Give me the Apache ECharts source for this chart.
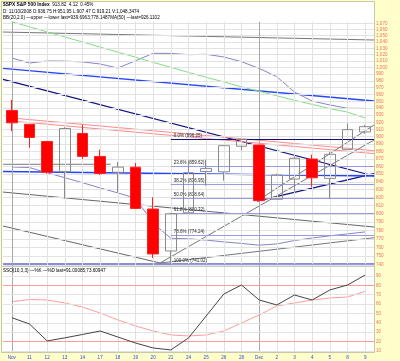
<!DOCTYPE html>
<html><head><meta charset="utf-8">
<script src="https://cdn.jsdelivr.net/npm/echarts@6/dist/echarts.min.js"></script>
<style>html,body{margin:0;padding:0;background:#FFFFCC}#c{width:400px;height:361px}</style>
</head><body><div id="c"></div>
<script>
const days = ['Nov','11','12','13','14','17','18','19','20','21','24','25','26','28','Dec','2','3','4','5','8','9'];
const opens  = [936.75,917.15,893.39,853.13,904.36,873.23,852.34,859.03,805.87,755.84,801.20,853.40,852.90,886.89,888.61,817.94,843.60,869.75,844.43,882.71,906.48];
const closes = [919.21,898.95,852.30,911.29,873.29,850.75,859.12,806.58,752.44,800.03,851.81,857.39,887.68,896.24,816.21,848.81,870.74,845.22,876.07,909.70,913.82];
const lows   = [907.47,884.90,850.48,818.69,869.88,848.98,826.84,806.18,747.78,741.02,801.20,834.99,841.37,881.21,815.69,817.94,827.60,833.60,818.41,882.71,904.00];
const highs  = [951.95,917.15,893.39,913.01,916.88,882.29,865.90,864.57,820.52,801.20,865.60,868.94,887.68,896.25,888.61,850.54,873.12,875.60,879.42,918.57,916.26];
const bbUpper = [1014.8,1007.1,1010.2,1010.0,1008.8,1005.6,999.4,1010.6,1022.1,1022.0,1020.0,1020.6,1016.4,1009.1,998.9,986.2,963.4,950.3,944.6,939.8,939.7];
const bbLower = [859.2,858.5,851.7,845.3,838.9,832.2,825.9,819.3,788.5,770.6,770.0,768.5,766.4,764.6,762.6,764.0,768.0,771.0,773.5,775.8,778.15];
const ma50 = [1072.6,1064.3,1056.0,1048.0,1040.0,1031.9,1023.9,1016.1,1008.0,1000.5,992.7,985.4,978.4,971.1,964.6,957.9,951.4,945.5,939.4,934.3,926.1];
const stochK = [45.5,38.8,20.7,24.0,27.6,31.3,24.9,18.5,13.2,11.1,23.9,47.3,70.8,80.4,64.4,59.1,69.7,64.4,75.1,80.4,91.0];
const stochD = [62.6,64.9,64.4,61.2,56.9,50.5,43.1,36.7,31.3,27.1,26.0,27.1,31.3,39.9,48.4,58.0,61.2,64.4,66.5,67.6,73.6];
const priceTicks = [740,750,760,770,780,790,800,810,820,830,840,850,860,870,880,890,900,910,920,930,940,950,960,970,980,990,1000,1010,1020,1030,1040,1050,1060,1070];
const oscTicks = [10,20,30,40,50,60,70,80,90];
const oscBands = [20,80];
const lastPrice = 913.82;
// hand-drawn annotation lines: [dayIndex, price]
const lineGrayTop = [[-0.5,1055.9],[20.5,1043.1]];
const lineBlue = [[-0.5,998.9],[20.5,950.3]];
const lineNavy = [[-0.5,982.3],[20.5,847.5]];
const lineNavyUp = [[13.88,815.7],[20.5,850.5]];
const linePinkA = [[0,926.0],[20.5,880.9]];
const linePinkB = [[0,921.7],[20.5,877.0]];
const lineBlueFlat = [[-0.5,853.3],[20.5,847.5]];
const lineGrayFlat = [[-0.5,862.8],[5.6,862.8]];
const lineSupport = [[-0.5,741.02],[20.5,741.02]];
const lineGrayL1 = [[-0.5,827.0],[20.5,784.0]];
const lineGrayL2 = [[-0.5,785.2],[8.39,742.1]];
const lineFan1 = [[8.39,742.1],[20.5,895.4]];
const lineFan2 = [[13.88,815.7],[20.5,916.1]];
const lineFan3 = [[8.39,742.1],[20.5,771.3]];
const fibNames = ['0.0%','23.6%','38.2%','50.0%','61.8%','78.6%','100.0%'];
const fibPrices = [896.25,859.62,836.95,818.64,800.32,774.24,741.02];
const fibStart = 9;

function fmt(p){ return p>=1000 ? String(p).replace(/(\d)(\d{3})$/,'$1,$2') : String(p); }
const FONT = 'Liberation Sans';
const chart = echarts.init(document.getElementById('c'), null, {renderer:'canvas'});

function seg(name, data, color, width, z){
  return {type:'line', xAxisIndex:1, yAxisIndex:0, data:data, showSymbol:false, symbol:'none', silent:true,
    lineStyle:{color:color, width:width||1}, z:z||4, animation:false};
}

const series = [];
series.push({type:'line', xAxisIndex:1, yAxisIndex:0, data:[], silent:true, z:1,
  markLine:{silent:true, symbol:'none', animation:false,
    lineStyle:{color:'#e2e2e2', width:1, type:'solid'},
    label:{show:true, position:'end', distance:2, color:'#f07068', fontSize:4.6, fontFamily:FONT, formatter:p=>fmt(p.value)},
    data: priceTicks.map(p=>({yAxis:p}))}});
series.push({type:'line', xAxisIndex:0, yAxisIndex:0, data:[], silent:true, z:1,
  markLine:{silent:true, symbol:'none', animation:false, label:{show:false},
    data: days.map((d,i)=>({xAxis:i, lineStyle:{color:(d==='Nov'||d==='Dec')?'#a8a8a8':'#e2e2e2', width:1, type:'solid'}}))}});
series.push({type:'line', xAxisIndex:2, yAxisIndex:1, data:[], silent:true, z:1,
  markLine:{silent:true, symbol:'none', animation:false, label:{show:false},
    data: days.map((d,i)=>({xAxis:i, lineStyle:{color:(d==='Nov'||d==='Dec')?'#a8a8a8':'#e2e2e2', width:1, type:'solid'}}))}});
series.push({type:'line', xAxisIndex:2, yAxisIndex:1, data:[], silent:true, z:1,
  markLine:{silent:true, symbol:'none', animation:false,
    lineStyle:{color:'#e2e2e2', width:1, type:'solid'},
    label:{show:true, position:'end', distance:2, color:'#f07068', fontSize:4.6, fontFamily:FONT, formatter:p=>String(p.value)},
    data: oscTicks.map(v=>({yAxis:v}))}});
series.push({type:'line', xAxisIndex:2, yAxisIndex:1, data:[], silent:true, z:2,
  markLine:{silent:true, symbol:'none', animation:false, label:{show:false},
    lineStyle:{color:'#ff9a9a', width:1, type:'solid'},
    data: oscBands.map(v=>({yAxis:v}))}});

series.push(seg('gtop', lineGrayTop, '#777777', 1));
series.push(seg('blue', lineBlue, '#2244ff', 1.4));
series.push(seg('navy', lineNavy, '#101080', 1.2));
series.push(seg('navyup', lineNavyUp, '#101080', 1.2));
series.push(seg('pinkA', linePinkA, '#ff8a8a', 1));
series.push(seg('pinkB', linePinkB, '#ff8a8a', 1));
series.push(seg('blueflat', lineBlueFlat, '#2244ff', 1.4));
series.push(seg('grayflat', lineGrayFlat, '#777777', 1));
series.push(seg('support', lineSupport, '#8c8cd8', 2));
series.push(seg('gl1', lineGrayL1, '#666666', 1));
series.push(seg('gl2', lineGrayL2, '#666666', 1));
series.push(seg('fan1', lineFan1, '#777777', 1));
series.push(seg('fan2', lineFan2, '#777777', 1));
series.push(seg('fan3', lineFan3, '#777777', 1));
series.push({type:'line', xAxisIndex:1, yAxisIndex:0, data:[], silent:true, z:3,
  markLine:{silent:true, symbol:'none', animation:false,
    data: fibPrices.map((p,i)=>[
      {coord:[fibStart,p], lineStyle:{color:i===0?'#101080':'#9a9ae0', width:1, type:'solid'},
       label:{show:true, position:'insideStartTop', distance:[3,1], color:'#222', fontSize:4.5, fontFamily:FONT,
       formatter: fibNames[i]+' ('+p.toFixed(2)+')'}},
      {coord:[20.5,p]}])}});
series.push({type:'line', xAxisIndex:0, yAxisIndex:0, data:bbUpper, showSymbol:false, symbol:'none', silent:true, lineStyle:{color:'#8585c8', width:1}, z:4});
series.push({type:'line', xAxisIndex:0, yAxisIndex:0, data:bbLower, showSymbol:false, symbol:'none', silent:true, lineStyle:{color:'#8585c8', width:1}, z:4});
series.push({type:'line', xAxisIndex:0, yAxisIndex:0, data:ma50, showSymbol:false, symbol:'none', silent:true, lineStyle:{color:'#80dd80', width:1}, z:4});
series.push({type:'candlestick', xAxisIndex:0, yAxisIndex:0, barWidth:11, silent:true, z:6,
  data: days.map((d,i)=>[opens[i],closes[i],lows[i],highs[i]]),
  itemStyle:{color:'rgba(255,255,255,0)', color0:'#ff0000', borderColor:'#8a8a8a', borderColor0:'#ff2020', borderWidth:1},
  markLine:{silent:true, symbol:'none', animation:false, lineStyle:{opacity:0, width:0},
    label:{show:true, position:'end', distance:1, formatter:lastPrice.toFixed(2), color:'#fff', backgroundColor:'#000', padding:[1,3,0,2], fontSize:4.8, fontFamily:FONT},
    data:[{yAxis:lastPrice}]}});
series.push({type:'line', xAxisIndex:2, yAxisIndex:1, data:stochD, showSymbol:false, symbol:'none', silent:true, lineStyle:{color:'#ff9c9c', width:1}, z:4});
series.push({type:'line', xAxisIndex:2, yAxisIndex:1, data:stochK, showSymbol:false, symbol:'none', silent:true, lineStyle:{color:'#444444', width:1}, z:5});

const tStyle = (x,y,rich,text)=>({type:'text', left:x, top:y, z:100, silent:true,
  style:{text:text, rich:rich, fontSize:4.6, fontFamily:FONT, fill:'#000'}});
const rich = {
  b:{fontSize:4.8, fontWeight:'bold', fontFamily:FONT, color:'#000'},
  k:{fontSize:4.6, fontFamily:FONT, color:'#000'},
  g:{fontSize:4.6, fontFamily:FONT, color:'#00a000'},
  bl:{fontSize:4.6, fontFamily:FONT, color:'#5555bb'},
  lg:{fontSize:4.6, fontFamily:FONT, color:'#33bb33'},
  r:{fontSize:4.6, fontFamily:FONT, color:'#ff4444'}
};

const option = {
  backgroundColor:'#FFFFCC', animation:false,
  grid:[{left:3, right:26, top:21.5, height:244.5, show:false},
        {left:3, right:26, top:267, height:85, show:false}],
  xAxis:[
    {type:'category', gridIndex:0, data:days, boundaryGap:true, show:false},
    {type:'value', gridIndex:0, min:-0.5, max:20.5, show:false},
    {type:'category', gridIndex:1, data:days, boundaryGap:true,
     axisLine:{show:false}, axisTick:{show:false}, splitLine:{show:false},
     axisLabel:{show:true, color:'#3344cc', fontSize:4.6, fontFamily:FONT, margin:3, interval:0}}
  ],
  yAxis:[
    {type:'log', gridIndex:0, min:738.7, max:1073, show:false, splitLine:{show:false}},
    {type:'value', gridIndex:1, min:8.9, max:99.6, show:false, splitLine:{show:false}}
  ],
  graphic:[
    {type:'rect', z:-10, silent:true, shape:{x:1.5, y:1.5, width:373, height:351}, style:{fill:'#fff', stroke:'#c8c8a8', lineWidth:1}},
    {type:'line', z:50, silent:true, shape:{x1:2, y1:266.5, x2:374, y2:266.5}, style:{stroke:'#c8c8c8', lineWidth:1}},
    tStyle(3,2.5,rich,'{b|$SPX S&P 500 Index}  {k|913.82}  {g|4.12  0.45%}'),
    tStyle(3,9.5,rich,'{k|D: 11/10/2008 O:936.75 H:951.95 L:907.47 C:919.21 V:1,048,3474}'),
    tStyle(3,15,rich,'{k|BB(20,2.0)} {bl|\u2014upper \u2014lower} {k|last=939.6963;778.1487}{lg|MA(50) \u2014last=926.1102}'),
    tStyle(3,268.5,rich,'{k|SSO(10,3,3) \u2014%K} {r|\u2014%D} {k|last=91.00085;}{r|73.60947}')
  ],
  series: series
};
chart.setOption(option);
</script></body></html>
